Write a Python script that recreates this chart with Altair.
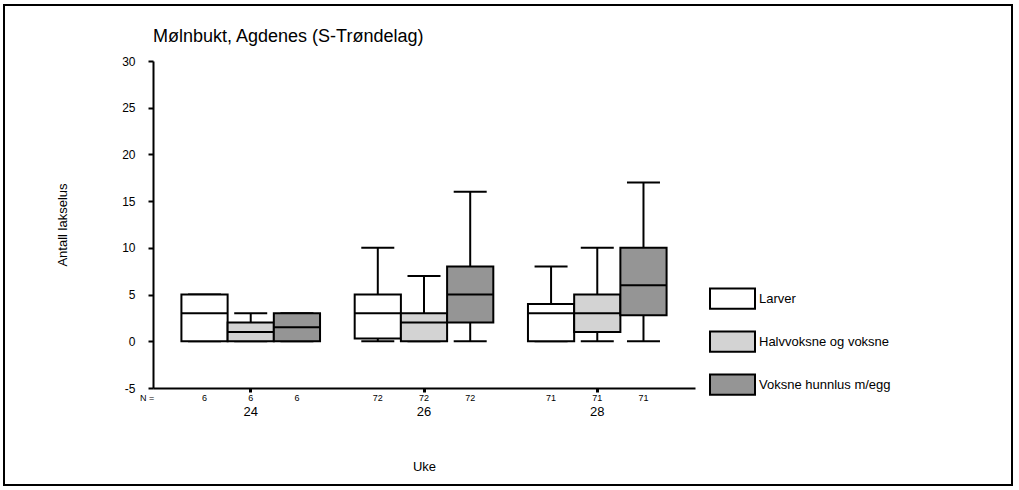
import altair as alt
import pandas as pd

categories = ["Larver", "Halvvoksne og voksne", "Voksne hunnlus m/egg"]
weeks = ["24", "26", "28"]
mins = [[0, 0, 0], [0, 0, 0], [0, 0, 0]]
q1s = [[0, 0, 0], [0.3, 0, 2], [0, 1, 2.8]]
meds = [[3, 1, 1.5], [3, 2, 5], [3, 3, 6]]
q3s = [[5, 2, 3], [5, 3, 8], [4, 5, 10]]
maxs = [[5, 3, 3], [10, 7, 16], [8, 10, 17]]
ns = [[6, 6, 6], [72, 72, 72], [71, 71, 71]]
colors = ["#ffffff", "#d3d3d3", "#959595"]

rows = []
for i, w in enumerate(weeks):
    for j, c in enumerate(categories):
        rows.append(dict(week=w, cat=c, lo=mins[i][j], q1=q1s[i][j], med=meds[i][j],
                         q3=q3s[i][j], hi=maxs[i][j], n=str(ns[i][j])))
df = pd.DataFrame(rows)

FONT = "Liberation Sans"
W, H = 542, 327

x = alt.X("week:N", title="Uke",
          scale=alt.Scale(paddingInner=0.2, paddingOuter=0.164),
          axis=alt.Axis(labelAngle=0, labelFontSize=13, labelPadding=13, tickSize=4,
                        tickWidth=3, domainWidth=2, titleFontSize=13, titleFontWeight="normal",
                        titlePadding=42, labelColor="black", titleColor="black",
                        domainColor="black", tickColor="black", labelFont=FONT, titleFont=FONT))
xo = alt.XOffset("cat:N", sort=categories, scale=alt.Scale(paddingInner=0, paddingOuter=0))
yscale = alt.Scale(domain=[-5, 30], nice=False, zero=False)
yaxis = alt.Axis(values=[-5, 0, 5, 10, 15, 20, 25, 30], title="Antall lakselus", grid=False,
                 labelExpr="datum.value",
                 labelFontSize=12, labelPadding=13, tickSize=5, tickWidth=2, domainWidth=2,
                 titleFontSize=13, titleFontWeight="normal", titlePadding=52,
                 labelColor="black", titleColor="black", domainColor="black", tickColor="black",
                 labelFont=FONT, titleFont=FONT)

base = alt.Chart(df)

whisk = base.mark_rule(color="black", strokeWidth=2).encode(
    x=x, xOffset=xo, y=alt.Y("lo:Q", scale=yscale, axis=yaxis), y2="hi:Q")

caps_hi = base.mark_tick(color="black", size=33, thickness=2, opacity=1).encode(
    x=x, xOffset=xo, y=alt.Y("hi:Q", scale=yscale))
caps_lo = base.mark_tick(color="black", size=33, thickness=2, opacity=1).encode(
    x=x, xOffset=xo, y=alt.Y("lo:Q", scale=yscale))

boxes = base.mark_bar(stroke="black", strokeWidth=2, opacity=1).encode(
    x=x, xOffset=xo, y=alt.Y("q1:Q", scale=yscale), y2="q3:Q",
    fill=alt.Fill("cat:N", sort=categories,
                  scale=alt.Scale(domain=categories, range=colors),
                  legend=alt.Legend(title=None, orient="none", legendX=556, legendY=214,
                                    symbolType="M-1,-0.45L1,-0.45L1,0.45L-1,0.45Z",
                                    symbolSize=2025, symbolStrokeColor="black",
                                    symbolStrokeWidth=2, symbolOpacity=1,
                                    labelFontSize=13, labelFont=FONT, labelColor="black",
                                    labelOffset=3, rowPadding=5)))

medians = base.mark_tick(color="black", size=46, thickness=2, opacity=1).encode(
    x=x, xOffset=xo, y=alt.Y("med:Q", scale=yscale))

nlabels = base.mark_text(fontSize=9, font=FONT, color="black").encode(
    x=x, xOffset=xo, y=alt.value(H + 10), text="n:N")

nhead = alt.Chart(pd.DataFrame({"t": ["N ="]})).mark_text(
    fontSize=9, font=FONT, color="black", align="center").encode(
    x=alt.value(-6), y=alt.value(H + 10), text="t:N")

frame = alt.Chart(pd.DataFrame({"a": [0]})).mark_rect(
    fill=None, stroke="black", strokeWidth=2).encode(
    x=alt.value(-149), x2=alt.value(859), y=alt.value(-56), y2=alt.value(424))

chart = alt.layer(frame, whisk, caps_hi, caps_lo, boxes, medians, nlabels, nhead).properties(
    width=W, height=H,
    background="white",
    title=alt.TitleParams("Mølnbukt, Agdenes (S-Trøndelag)", anchor="start", fontSize=18,
                          font=FONT, fontWeight="normal", color="black", offset=0, dy=42,
                          frame="group"),
    autosize=alt.AutoSizeParams(type="none"),
    padding={"left": 153, "top": 61, "right": 1019 - 153 - W, "bottom": 490 - 61 - H},
).configure_view(stroke=None, strokeWidth=0)

chart.save("out.html", embed_options={"renderer": "svg", "actions": False})
